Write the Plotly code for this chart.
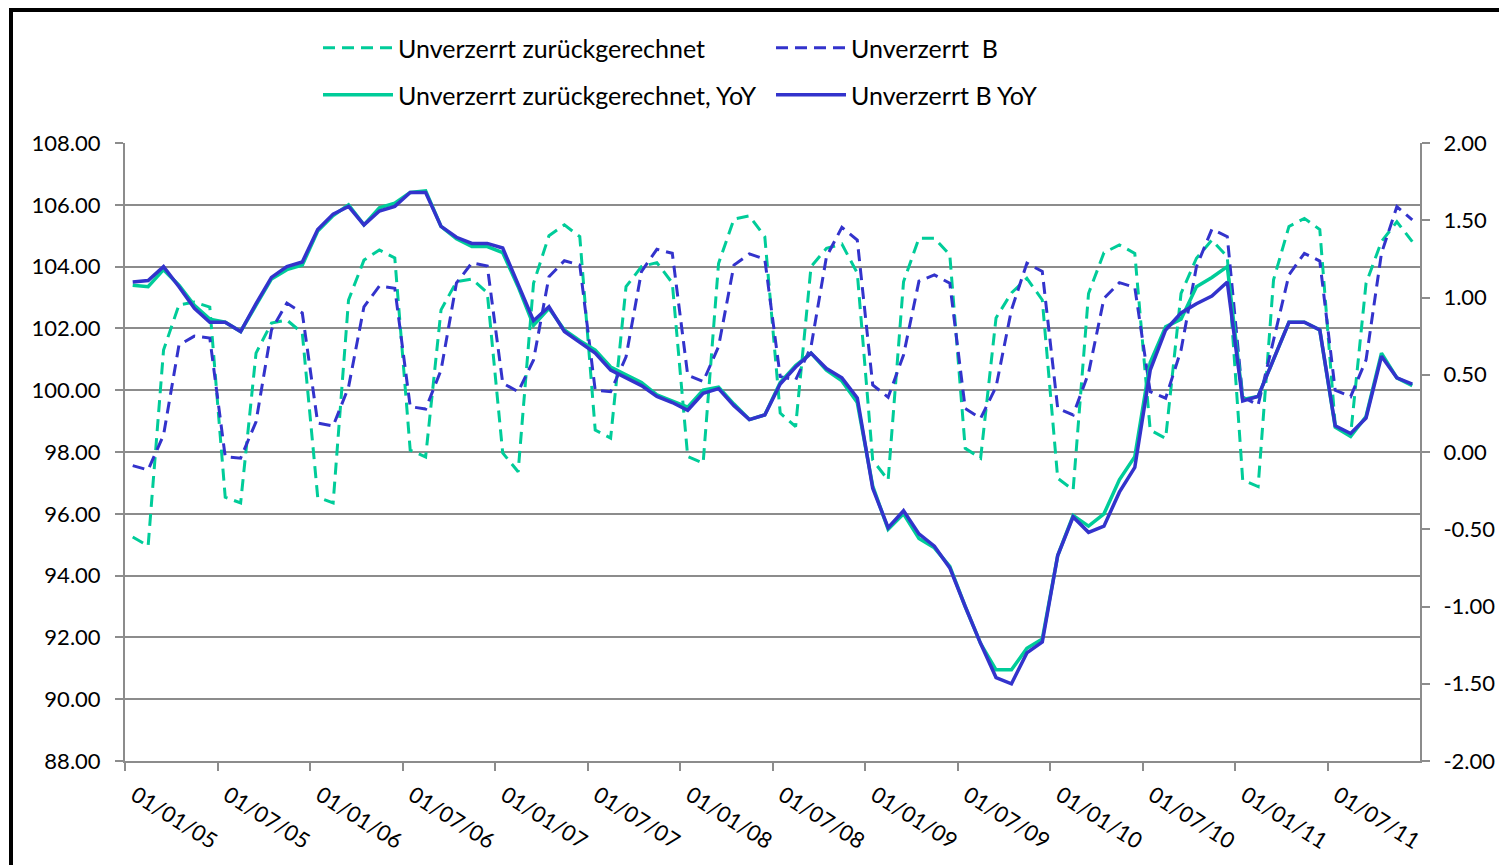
import plotly.graph_objects as go

# ---------------- data (monthly, Jan 2005 - Dec 2011) ----------------
tick_labels = ["01/01/05", "01/07/05", "01/01/06", "01/07/06", "01/01/07", "01/07/07",
               "01/01/08", "01/07/08", "01/01/09", "01/07/09", "01/01/10", "01/07/10",
               "01/01/11", "01/07/11"]

# Unverzerrt zurückgerechnet (left axis)
z_level = [95.25, 94.96, 101.30, 102.76, 102.85, 102.69, 96.54, 96.35, 101.20, 102.17, 102.27, 101.85,
           96.54, 96.35, 102.92, 104.21, 104.54, 104.28, 98.06, 97.84, 102.60, 103.51, 103.60, 103.15,
           97.97, 97.36, 103.46, 105.00, 105.35, 104.97, 98.71, 98.45, 103.35, 104.00, 104.13, 103.47,
           97.85, 97.64, 104.10, 105.54, 105.64, 104.97, 99.26, 98.82, 104.00, 104.59, 104.73, 103.79,
           97.74, 97.09, 103.51, 104.92, 104.92, 104.38, 98.12, 97.80, 102.34, 103.15, 103.62, 102.92,
           97.15, 96.77, 103.13, 104.45, 104.70, 104.43, 98.71, 98.44, 103.13, 104.27, 104.86, 104.32,
           97.09, 96.88, 103.57, 105.30, 105.56, 105.20, 98.87, 98.55, 103.46, 104.81, 105.45, 104.81]

# Unverzerrt B (left axis)
b_level = [97.56, 97.42, 98.55, 101.46, 101.75, 101.69, 97.85, 97.80, 98.98, 101.95, 102.82, 102.50,
           98.94, 98.84, 100.10, 102.70, 103.37, 103.30, 99.47, 99.39, 100.65, 103.47, 104.12, 104.02,
           100.23, 99.95, 100.98, 103.67, 104.19, 104.05, 100.00, 99.95, 101.08, 103.84, 104.56, 104.43,
           100.49, 100.28, 101.41, 104.05, 104.41, 104.24, 100.44, 100.33, 101.41, 104.32, 105.27, 104.86,
           100.17, 99.77, 101.14, 103.53, 103.73, 103.46, 99.41, 99.09, 100.11, 102.60, 104.11, 103.84,
           99.41, 99.20, 100.55, 102.97, 103.48, 103.33, 99.95, 99.74, 101.30, 104.00, 105.21, 104.97,
           99.78, 99.52, 101.62, 103.73, 104.43, 104.18, 100.00, 99.79, 100.98, 104.43, 105.94, 105.51]

# Unverzerrt zurückgerechnet, YoY (right axis)
z_yoy = [1.08, 1.07, 1.18, 1.08, 0.95, 0.86, 0.84, 0.78, 0.95, 1.12, 1.18, 1.21,
         1.43, 1.53, 1.60, 1.47, 1.58, 1.61, 1.68, 1.69, 1.46, 1.38, 1.33, 1.33,
         1.29, 1.07, 0.82, 0.93, 0.79, 0.72, 0.66, 0.55, 0.50, 0.45, 0.37, 0.33,
         0.29, 0.40, 0.42, 0.31, 0.21, 0.24, 0.45, 0.56, 0.64, 0.53, 0.46, 0.32,
         -0.22, -0.50, -0.40, -0.56, -0.62, -0.74, -1.00, -1.24, -1.41, -1.41, -1.27, -1.21,
         -0.67, -0.41, -0.48, -0.40, -0.18, -0.03, 0.58, 0.81, 0.86, 1.07, 1.13, 1.20,
         0.34, 0.36, 0.60, 0.84, 0.84, 0.79, 0.16, 0.10, 0.23, 0.64, 0.48, 0.43]

# Unverzerrt B YoY (right axis)
b_yoy = [1.10, 1.11, 1.20, 1.07, 0.93, 0.84, 0.84, 0.78, 0.96, 1.13, 1.20, 1.23,
         1.44, 1.54, 1.59, 1.47, 1.56, 1.59, 1.68, 1.68, 1.46, 1.39, 1.35, 1.35,
         1.32, 1.08, 0.85, 0.94, 0.78, 0.71, 0.64, 0.53, 0.48, 0.43, 0.36, 0.32,
         0.27, 0.38, 0.41, 0.30, 0.21, 0.24, 0.44, 0.55, 0.64, 0.54, 0.48, 0.35,
         -0.235, -0.49, -0.38, -0.53, -0.61, -0.75, -1.00, -1.24, -1.46, -1.50, -1.30, -1.23,
         -0.67, -0.42, -0.52, -0.48, -0.26, -0.10, 0.53, 0.79, 0.90, 0.96, 1.01, 1.10,
         0.33, 0.36, 0.60, 0.84, 0.84, 0.79, 0.17, 0.12, 0.22, 0.62, 0.48, 0.44]

left_ticks = [88, 90, 92, 94, 96, 98, 100, 102, 104, 106, 108]
right_ticks = [-2.0, -1.5, -1.0, -0.5, 0.0, 0.5, 1.0, 1.5, 2.0]

# ---------------- figure ----------------
n = len(z_level)
x = [i + 0.5 for i in range(n)]          # each month centred between ticks
tick_pos = [6 * k for k in range(len(tick_labels))]

GREEN = "#00CC99"
BLUE = "#3333CC"
GRAY = "#8C8C8C"
FONT = "Lato, sans-serif"

fig = go.Figure()
fig.add_trace(go.Scatter(x=x, y=z_level, name="Unverzerrt zurückgerechnet", mode="lines",
                         line=dict(color=GREEN, width=3, dash="12px,7px"), legend="legend"))
fig.add_trace(go.Scatter(x=x, y=b_level, name="Unverzerrt  B", mode="lines",
                         line=dict(color=BLUE, width=3, dash="12px,7px"), legend="legend"))
fig.add_trace(go.Scatter(x=x, y=z_yoy, name="Unverzerrt zurückgerechnet, YoY", mode="lines",
                         line=dict(color=GREEN, width=3.5), yaxis="y2", legend="legend2"))
fig.add_trace(go.Scatter(x=x, y=b_yoy, name="Unverzerrt B YoY", mode="lines",
                         line=dict(color=BLUE, width=3.5), yaxis="y2", legend="legend2"))

# page body has an 8px margin, so the figure is sized/offset accordingly
W, H = 1499, 857
ml, mt = 117, 135
pw, ph = 1295, 618
mr, mb = W - ml - pw, H - mt - ph

def px2paper_x(page_px):
    return (page_px - 125) / pw

def px2paper_y(page_py):
    return (761 - page_py) / ph

legend_common = dict(orientation="h", xanchor="left", yanchor="middle",
                     font=dict(family=FONT, size=25, color="black"),
                     bgcolor="rgba(0,0,0,0)", itemwidth=70,
                     entrywidth=368, entrywidthmode="pixels", tracegroupgap=0)

axis_font = dict(family=FONT, size=22, color="black")

fig.update_layout(
    width=W, height=H, autosize=False,
    margin=dict(l=ml, r=mr, t=mt, b=mb, autoexpand=False),
    paper_bgcolor="white", plot_bgcolor="white",
    font=dict(family=FONT, size=22, color="black"),
    showlegend=True,
    legend=dict(x=px2paper_x(318), y=px2paper_y(48), **legend_common),
    legend2=dict(x=px2paper_x(318), y=px2paper_y(95), **legend_common),
    xaxis=dict(range=[0, n], tickmode="array", tickvals=tick_pos, ticktext=tick_labels,
               tickangle=32, showgrid=False, zeroline=False, showline=True, automargin=False,
               linecolor=GRAY, linewidth=2, ticks="outside", ticklen=8, tickcolor=GRAY,
               tickwidth=2, tickfont=axis_font, ticklabelshift=10, ticklabelstandoff=3),
    yaxis=dict(range=[88, 108], tickmode="array", tickvals=left_ticks,
               ticktext=[f"{v:.2f}" for v in left_ticks], automargin=False,
               showgrid=True, gridcolor=GRAY, gridwidth=2, zeroline=False,
               showline=True, linecolor=GRAY, linewidth=2, ticks="outside", ticklen=8,
               tickcolor=GRAY, tickwidth=2, tickfont=axis_font, ticklabelstandoff=10),
    yaxis2=dict(range=[-2, 2], overlaying="y", side="right", tickmode="array",
                tickvals=right_ticks, ticktext=[f"{v:.2f}" for v in right_ticks],
                showgrid=False, zeroline=False, showline=True, linecolor=GRAY, linewidth=2,
                ticks="outside", ticklen=8, tickcolor=GRAY, tickwidth=2, automargin=False,
                tickfont=axis_font, ticklabelstandoff=9),
    shapes=[dict(type="rect", xref="paper", yref="paper",
                 x0=px2paper_x(11), x1=px2paper_x(1530), y0=px2paper_y(900), y1=px2paper_y(10),
                 line=dict(color="black", width=4), fillcolor="rgba(0,0,0,0)", layer="above")],
)

fig.write_html("out.html")
